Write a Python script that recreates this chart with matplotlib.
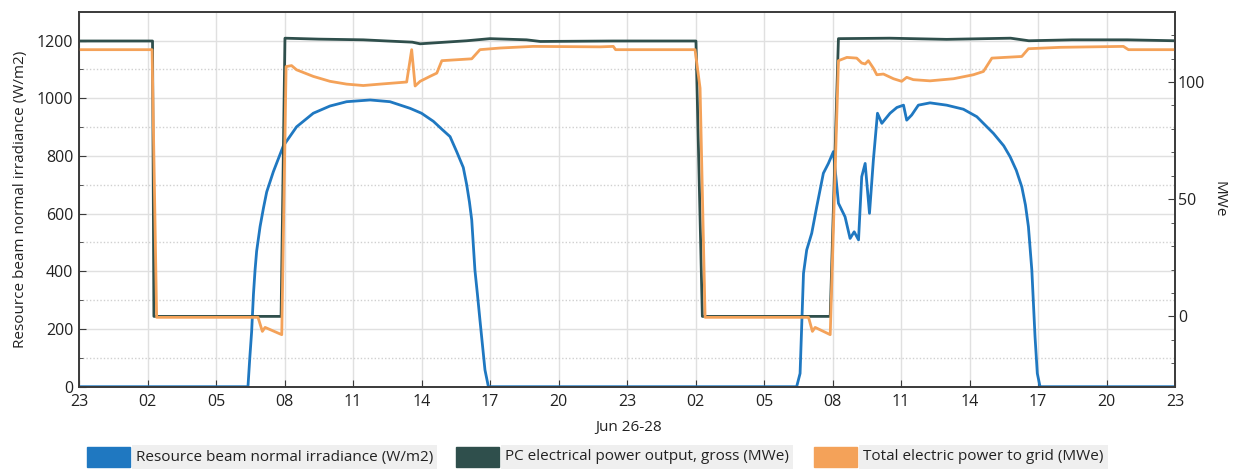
import matplotlib
matplotlib.use("Agg")
import matplotlib.pyplot as plt
from matplotlib.patches import Rectangle

plt.rcParams['font.family'] = ['Open Sans', 'DejaVu Sans']

# hours since Jun 26 23:00
tick_hours = list(range(0, 49, 3))
tick_labels = ['23', '02', '05', '08', '11', '14', '17', '20', '23',
               '02', '05', '08', '11', '14', '17', '20', '23']

# Resource beam normal irradiance (W/m2)
dni_h = [0, 7.4, 7.48, 7.56, 7.64, 7.71, 7.78, 7.93, 8.08, 8.22,
         8.51, 8.95, 9.53, 10.26, 10.99, 11.72, 12.75, 13.62, 14.5, 15.0,
         15.52, 15.9, 16.25, 16.54, 16.83, 16.98, 17.1, 17.2, 17.34, 17.45,
         17.56, 17.78, 17.93,
         31.43, 31.58, 31.73, 31.87, 32.09, 32.31,
         32.6, 32.82, 33.04, 33.26, 33.55, 33.77, 33.95, 34.14, 34.28, 34.43,
         34.62, 34.79, 34.97, 35.16, 35.52, 35.82, 36.11, 36.25, 36.47, 36.76,
         37.27, 38.0, 38.73, 39.32, 40.05, 40.5, 40.78, 41.05, 41.29, 41.45,
         41.58, 41.73, 41.87, 41.97, 42.09, 48]
dni_v = [0, 0, 100, 190, 320, 404, 470, 555, 620, 675,
         745, 835, 901, 948, 973, 988, 994, 988, 965, 948,
         920, 892, 867, 815, 760, 700, 640, 578, 404, 320,
         231, 58, 0,
         0, 46, 393, 474, 532, 624,
         740, 774, 815, 636, 589, 514, 537, 509, 728, 774,
         601, 786, 948, 913, 948, 968, 976, 924, 942, 976,
         984, 976, 962, 936, 878, 835, 797, 750, 693, 630,
         555, 404, 173, 46, 0, 0]

# PC electrical power output, gross (MWe)
gross_h = [0, 3.22, 3.28, 8.85, 9.02, 10.5, 12.45, 13.5, 14.6, 14.94,
           16.98, 18.0, 19.6, 20.2, 23.4, 27.02, 27.3, 32.9, 33.26, 35.5,
           38.0, 40.8, 41.6, 43.5, 45.9, 48]
gross_v = [117.5, 117.5, 0, 0, 118.7, 118.3, 118.0, 117.5, 117.0, 116.3,
           117.6, 118.5, 118.0, 117.3, 117.5, 117.5, 0, 0, 118.5, 118.7,
           118.2, 118.7, 117.6, 118.0, 118.0, 117.6]

# Total electric power to grid (MWe)
grid_h = [0, 3.2, 3.4, 7.84, 8.03, 8.15, 8.88, 9.07, 9.31, 9.53,
          10.26, 10.99, 11.72, 12.45, 13.18, 14.35, 14.57, 14.72, 14.94, 15.37,
          15.67, 15.89, 17.2, 17.56, 18.44, 19.89, 22.82, 23.4, 23.5, 26.98,
          27.2, 27.42, 31.95, 32.12, 32.24, 32.9, 33.26, 33.63, 34.06, 34.28,
          34.43, 34.57, 34.79, 34.94, 35.23, 35.67, 36.03, 36.25, 36.54, 37.27,
          38.3, 39.17, 39.61, 39.98, 41.29, 41.58, 42.97, 45.74, 45.96, 48]
grid_v = [113.8, 113.8, -0.4, -0.4, -6.4, -4.7, -7.8, 106.6, 107.0, 105.2,
          102.4, 100.3, 99.1, 98.5, 99.1, 100.0, 113.8, 98.3, 100.3, 102.4,
          103.8, 109.1, 109.9, 113.8, 114.5, 115.2, 115.0, 115.2, 113.8, 113.8,
          97.4, -0.4, -0.4, -6.4, -4.7, -7.8, 109.1, 110.5, 110.2, 108.1,
          107.7, 109.1, 105.9, 103.1, 103.4, 101.4, 100.3, 102.0, 101.0, 100.5,
          101.4, 103.1, 104.5, 110.2, 110.9, 114.2, 114.8, 115.2, 113.8, 113.8]

labels = ['Resource beam normal irradiance (W/m2)',
          'PC electrical power output, gross (MWe)',
          'Total electric power to grid (MWe)']
colors = ['#1f78c1', '#2f4f4c', '#f4a259']

W, H = 1236, 474
fig = plt.figure(figsize=(W / 100, H / 100), dpi=100)
ax = fig.add_axes([79 / W, 1 - 386.7 / H, 1096 / W, 375 / H])
ax2 = ax.twinx()

ax.plot(dni_h, dni_v, color=colors[0], lw=2)
ax2.plot(gross_h, gross_v, color=colors[1], lw=2)
ax2.plot(grid_h, grid_v, color=colors[2], lw=2)

ax.set_xlim(0, 48)
ax.set_ylim(0, 1300)
ax2.set_ylim(-30, 130)
ax.set_xticks(tick_hours)
ax.set_xticklabels(tick_labels)
ax.set_yticks(range(0, 1201, 200))
ax.set_yticks(range(100, 1300, 200), minor=True)
ax2.set_yticks([0, 50, 100])
ax2.set_yticks(range(-20, 130, 10), minor=True)

ax.grid(which='major', color='#e0e0e0', lw=1)
ax.yaxis.grid(which='minor', color='#d0d0d0', lw=1, ls=(0, (1, 1.5)))
ax.set_axisbelow(True)

for a in (ax, ax2):
    for s in a.spines.values():
        s.set_color('#3a3a3a')
        s.set_linewidth(1.2)
ax.tick_params(axis='both', which='both', direction='in', colors='#3a3a3a',
               labelcolor='#222222', labelsize=11.5)
ax.tick_params(axis='x', length=5, pad=5)
ax.tick_params(axis='y', which='major', length=5, pad=4)
ax.tick_params(axis='y', which='minor', length=3)
ax.tick_params(axis='x', which='minor', length=0)
ax2.tick_params(axis='y', which='both', direction='in', colors='#3a3a3a',
                labelcolor='#222222', labelsize=11.5, pad=2)
ax2.tick_params(axis='y', which='major', length=5)
ax2.tick_params(axis='y', which='minor', length=3)

fig.text(20.5 / W, 1 - 199 / H, 'Resource beam normal irradiance (W/m2)',
         rotation=90, ha='center', va='center', fontsize=11, color='#222222')
fig.text(1219 / W, 1 - 199 / H, 'MWe', rotation=-90, ha='center', va='center',
         fontsize=11, color='#222222')
fig.text(629 / W, 1 - 428 / H, 'Jun 26-28', ha='center', va='center',
         fontsize=11, color='#222222')

# legend row under the chart
leg_x = [87, 456, 814]
leg_y = 457
for x0, lab, col in zip(leg_x, labels, colors):
    fig.patches.append(Rectangle((x0 / W, 1 - (leg_y + 10) / H), 43 / W, 20 / H,
                                 transform=fig.transFigure, color=col))
    fig.text((x0 + 49) / W, 1 - leg_y / H, lab, ha='left', va='center',
             fontsize=11, color='#222222',
             bbox=dict(facecolor='#efefef', edgecolor='none', pad=3))

fig.savefig('out.png', dpi=100)
